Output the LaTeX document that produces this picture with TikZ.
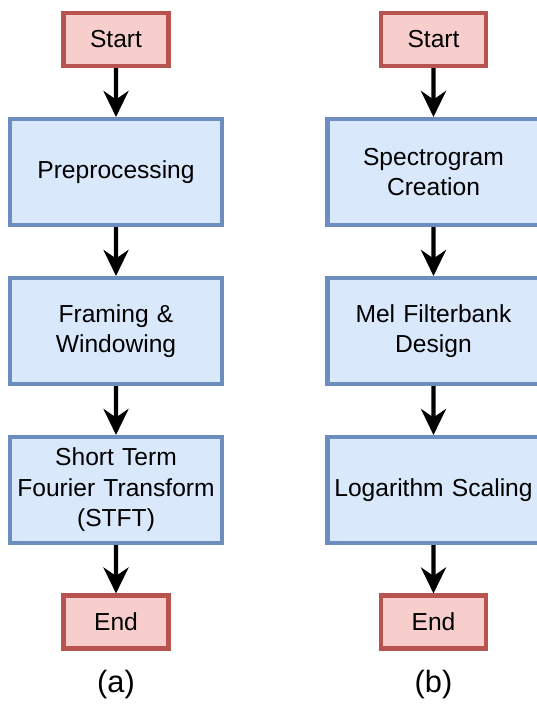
\documentclass[tikz,border=0pt]{standalone}
\usepackage{fontspec}
\setmainfont{Liberation Sans}
\usetikzlibrary{arrows.meta, trees, positioning}
\definecolor{termfill}{HTML}{F8CECC}
\definecolor{termline}{HTML}{B85450}
\definecolor{blockfill}{HTML}{DAE8FC}
\definecolor{blockline}{HTML}{6C8EBF}

\begin{document}
\begin{tikzpicture}[
  font=\fontsize{14}{17.4}\selectfont,
  level 1/.style={level distance=2.65cm},
  level 2/.style={level distance=3.18cm},
  level 3/.style={level distance=3.18cm},
  level 4/.style={level distance=2.64cm},
  term/.style={rectangle, draw=termline, fill=termfill, line width=2.3pt, minimum width=2.1cm, minimum height=1.06cm},
  block/.style={rectangle, draw=blockline, fill=blockfill, line width=2.3pt, text width=4cm, inner sep=0.12cm, align=center, minimum height=2.12cm},
  caption/.style={font=\fontsize{17.5}{21}\selectfont},
  edge from parent/.style={draw, line width=2.5pt, -{Stealth[length=0.52cm, width=0.5cm, inset=0.17cm]}}
]
\useasboundingbox (0,0) rectangle (10.74,-14.08);

% (a): Fourier side
\node[term] (starta) at (2.32,-0.79) {Start}
    child {node[block] (prep) {Preprocessing}
        child {node[block] (frame) {Framing \&\\ Windowing}
            child {node[block] (stft) {Short Term\\ Fourier Transform\\ (STFT)}
                child {node[term] (enda) {End}}
            }
        }
    };
\node[caption] (capa) at (2.32,-13.7) {(a)};

% (b): Mel side
\node[term] (startb) at (8.67,-0.79) {Start}
    child {node[block] (spec) {Spectrogram\\ Creation}
        child {node[block] (mel) {Mel Filterbank\\ Design}
            child {node[block] (logs) {Logarithm Scaling}
                child {node[term] (endb) {End}}
            }
        }
    };
\node[caption] (capb) at (8.67,-13.7) {(b)};
\end{tikzpicture}
\end{document}
